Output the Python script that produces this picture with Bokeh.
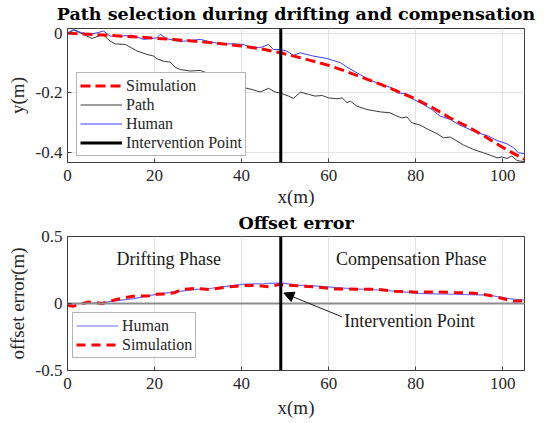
from bokeh.plotting import figure
from bokeh.layouts import column
from bokeh.models import (Range1d, FixedTicker, Legend, LegendItem,
                          Label, Arrow, NormalHead, Span)
from bokeh.embed import file_html
from bokeh.resources import INLINE

FONT = "Liberation Serif"
TITLE_FONT = "DejaVu Serif"

# ---------------- data ----------------
x_ticks = [0, 20, 40, 60, 80, 100]
x_tick_labels = ["0", "20", "40", "60", "80", "100"]
y_ticks_top = [-0.4, -0.2, 0]
y_tick_labels_top = ["-0.4", "-0.2", "0"]
y_ticks_bot = [-0.5, 0, 0.5]
y_tick_labels_bot = ["-0.5", "0", "0.5"]

x_lim = (0, 105)
y_lim_top = (-0.4335, 0.0155)
y_lim_bot = (-0.5, 0.5)
intervention_x = 49

path_x = [0, 1.5, 2.9, 5.6, 7.5, 8.4, 9.8, 11, 13.3, 16, 18.2, 19.8, 20.4, 22, 23.6, 24.7,
          25.9, 28.2, 30.5, 32.8, 35.1, 37.4, 40.1, 42.4, 44.3, 46.2, 47.7, 49.1, 50.8,
          51.9, 53.5, 55.4, 56.9, 58.5, 60, 61.9, 63.1, 64.2, 65, 66.5, 68.8, 71.9, 74.1,
          75.7, 76.8, 78, 79.1, 81, 82.9, 84.9, 86.4, 87.9, 89.5, 91, 93.3, 95.6, 97.1,
          98.7, 99.8, 101, 102.1, 103.3, 105]
path_y = [0, 0.01, 0.001, -0.018, -0.008, -0.008, -0.027, -0.036, -0.038, -0.06, -0.071,
          -0.077, -0.085, -0.094, -0.097, -0.114, -0.122, -0.127, -0.125, -0.138, -0.152,
          -0.166, -0.181, -0.189, -0.197, -0.185, -0.197, -0.202, -0.211, -0.219, -0.198,
          -0.205, -0.211, -0.209, -0.217, -0.22, -0.217, -0.233, -0.228, -0.245, -0.256,
          -0.264, -0.267, -0.278, -0.284, -0.281, -0.3, -0.308, -0.323, -0.337, -0.351,
          -0.348, -0.362, -0.375, -0.39, -0.401, -0.409, -0.418, -0.415, -0.42, -0.412,
          -0.427, -0.431]

human_x = [0, 1.4, 3.3, 5.2, 6.8, 8.3, 9.8, 12.1, 14.8, 17.5, 20.5, 21.3, 22.8, 25.9, 28.2,
           30.5, 32.8, 35.1, 38.2, 40.4, 42.4, 44.7, 46.2, 47.3, 48.9, 50.4, 51.9, 53.5,
           56.5, 59.6, 62.7, 64.2, 66.5, 68.8, 71.9, 74.1, 75.7, 77.6, 79.5, 81.8, 83.7,
           85.6, 87.9, 89.8, 92.5, 94.8, 96.7, 98.7, 101, 102.5, 103.6, 105]
human_y = [0, 0.012, 0.001, -0.004, 0.001, 0.007, -0.01, -0.01, -0.007, -0.021, -0.016,
           -0.004, -0.019, -0.028, -0.025, -0.021, -0.029, -0.036, -0.036, -0.038, -0.049,
           -0.047, -0.038, -0.055, -0.055, -0.06, -0.075, -0.066, -0.077, -0.085, -0.099,
           -0.114, -0.133, -0.152, -0.172, -0.181, -0.2, -0.203, -0.222, -0.239, -0.256,
           -0.278, -0.289, -0.306, -0.323, -0.336, -0.345, -0.36, -0.371, -0.384, -0.401,
           -0.404]

sim_x = [0, 5, 10, 15, 20, 25, 30, 35, 40, 45, 49, 52, 56, 60, 64, 68, 72, 76, 80, 84, 88,
         92, 96, 100, 103, 105]
sim_y = [0, -0.004, -0.008, -0.012, -0.017, -0.022, -0.028, -0.035, -0.043, -0.054, -0.066,
         -0.077, -0.092, -0.108, -0.128, -0.15, -0.172, -0.196, -0.221, -0.251, -0.285,
         -0.314, -0.347, -0.383, -0.407, -0.423]

err_human_x = [0, 4, 7.5, 11, 15.2, 19, 22.8, 26, 29, 32.6, 36.5, 40.6, 45.3, 49.1, 52.7,
               56.7, 60.5, 64.7, 68.5, 72.7, 76.5, 80.7, 84.5, 88.8, 92.5, 96.8, 100, 102.5,
               105]
err_human_y = [-0.003, 0.0, 0.005, 0.02, 0.037, 0.06, 0.079, 0.092, 0.103, 0.112, 0.128,
               0.144, 0.149, 0.154, 0.137, 0.131, 0.122, 0.112, 0.106, 0.099, 0.088, 0.075,
               0.072, 0.069, 0.066, 0.062, 0.045, 0.032, 0.025]

err_sim_x = [0, 1.4, 4.9, 8, 11.4, 15, 18.5, 20.5, 22.5, 24.5, 26.2, 29.4, 32.6, 36.7, 40.6,
             43.9, 46.3, 48.7, 51.9, 56.7, 61.5, 67.1, 71, 75.1, 80.7, 84.6, 88.8, 93.6,
             96.8, 100, 102.4, 105]
err_sim_y = [-0.013, -0.02, 0.012, 0.0, 0.032, 0.054, 0.056, 0.069, 0.072, 0.08, 0.104,
             0.112, 0.104, 0.124, 0.134, 0.134, 0.124, 0.142, 0.134, 0.124, 0.109, 0.107,
             0.107, 0.092, 0.084, 0.087, 0.082, 0.077, 0.062, 0.037, 0.017, 0.02]

title_top = "Path selection during drifting and compensation"
title_bot = "Offset error"

# ---------------- styling helpers ----------------
AXIS_COLOR = "#404040"
TEXT_COLOR = "#262626"


def style_axis(ax, ticks, labels):
    ax.ticker = FixedTicker(ticks=ticks)
    ax.major_label_overrides = {t: l for t, l in zip(ticks, labels)}
    ax.major_tick_in = 4
    ax.major_tick_out = 0
    ax.minor_tick_line_color = None
    ax.axis_line_color = AXIS_COLOR
    ax.major_tick_line_color = AXIS_COLOR
    ax.major_label_text_font = FONT
    ax.major_label_text_color = TEXT_COLOR
    ax.major_label_text_font_size = "17px"
    ax.axis_label_text_font = FONT
    ax.axis_label_text_font_size = "19px"
    ax.axis_label_text_font_style = "normal"
    ax.axis_label_text_color = TEXT_COLOR


def make_fig(height, y_lim, y_ticks, y_labels, ylabel, title, top_border, bottom_border,
             xlabel_standoff, title_standoff):
    p = figure(width=540, height=height, x_range=Range1d(*x_lim), y_range=Range1d(*y_lim),
               output_backend="svg", toolbar_location=None, title=title,
               min_border_left=67, min_border_right=16,
               min_border_top=top_border, min_border_bottom=bottom_border)
    p.title.align = "center"
    p.title.vertical_align = "top"
    p.title.text_font = TITLE_FONT
    p.title.text_font_size = "17.5px"
    p.title.text_font_style = "bold"
    p.title.text_color = "black"
    p.title.standoff = title_standoff
    p.title.offset = 0
    p.outline_line_color = AXIS_COLOR
    p.outline_line_width = 1
    p.background_fill_color = "white"
    p.border_fill_color = "white"
    style_axis(p.xaxis[0], x_ticks, x_tick_labels)
    style_axis(p.yaxis[0], y_ticks, y_labels)
    p.xaxis[0].axis_label = "x(m)"
    p.xaxis[0].major_label_standoff = 7
    p.xaxis[0].axis_label_standoff = xlabel_standoff
    p.yaxis[0].axis_label = ylabel
    p.yaxis[0].major_label_standoff = 5
    p.yaxis[0].axis_label_standoff = 5
    p.grid.grid_line_color = "#e2e2e2"
    p.grid.grid_line_width = 1
    return p


def style_legend(leg):
    leg.label_text_font = FONT
    leg.label_text_font_size = "16px"
    leg.label_text_color = TEXT_COLOR
    leg.glyph_width = 42
    leg.glyph_height = 19
    leg.label_height = 19
    leg.label_standoff = 4
    leg.spacing = 0
    leg.padding = 3
    leg.margin = 0
    leg.border_line_color = "#6a6a6a"
    leg.border_line_width = 1
    leg.background_fill_color = "white"
    leg.background_fill_alpha = 1


# ---------------- top figure ----------------
p1 = make_fig(210, y_lim_top, y_ticks_top, y_tick_labels_top, "y(m)", title_top, 28, 48,
              2, 5)

r_path = p1.line(path_x, path_y, line_color="#3a3a3a", line_width=1)
r_human = p1.line(human_x, human_y, line_color="#3d3dff", line_width=1)
r_sim = p1.line(sim_x, sim_y, line_color="#ff0000", line_width=3, line_dash="10 5")
r_iv = p1.line([intervention_x, intervention_x], list(y_lim_top), line_color="black",
               line_width=3)

leg1 = Legend(items=[LegendItem(label="Simulation", renderers=[r_sim]),
                     LegendItem(label="Path", renderers=[r_path]),
                     LegendItem(label="Human", renderers=[r_human]),
                     LegendItem(label="Intervention Point", renderers=[r_iv])],
              location=(9, 6))
style_legend(leg1)
p1.add_layout(leg1)

# ---------------- bottom figure ----------------
p2 = make_fig(212, y_lim_bot, y_ticks_bot, y_tick_labels_bot, "offset error(m)", title_bot,
              26, 52, 5, 4)

p2.add_layout(Span(location=0, dimension="width", line_color="#8c8c8c", line_width=2,
                   level="glyph"))
r_eh = p2.line(err_human_x, err_human_y, line_color="#6b6bff", line_width=1.2)
r_es = p2.line(err_sim_x, err_sim_y, line_color="#ff0000", line_width=3, line_dash="9 6")
p2.add_layout(Span(location=intervention_x, dimension="height", line_color="black",
                   line_width=3))

leg2 = Legend(items=[LegendItem(label="Human", renderers=[r_eh]),
                     LegendItem(label="Simulation", renderers=[r_es])],
              location=(5, 12))
style_legend(leg2)
p2.add_layout(leg2)

ann_font = "18px"
p2.add_layout(Label(x=23.25, y=0.33, text="Drifting Phase", text_align="center",
                    text_baseline="middle", text_font=FONT, text_font_size=ann_font,
                    text_color="#1a1a1a"))
p2.add_layout(Label(x=79.0, y=0.33, text="Compensation Phase", text_align="center",
                    text_baseline="middle", text_font=FONT, text_font_size=ann_font,
                    text_color="#1a1a1a"))
p2.add_layout(Label(x=63.6, y=-0.132, text="Intervention Point", text_align="left",
                    text_baseline="middle", text_font=FONT, text_font_size=ann_font,
                    text_color="#1a1a1a"))
p2.add_layout(Arrow(end=NormalHead(size=10, fill_color="black", line_color="black",
                                   line_width=1),
                    x_start=63.1, y_start=-0.1, x_end=49.7, y_end=0.078,
                    line_color="#1a1a1a", line_width=1))

layout = column(p1, p2, spacing=0)
open("out.html", "w").write(file_html(layout, INLINE))
